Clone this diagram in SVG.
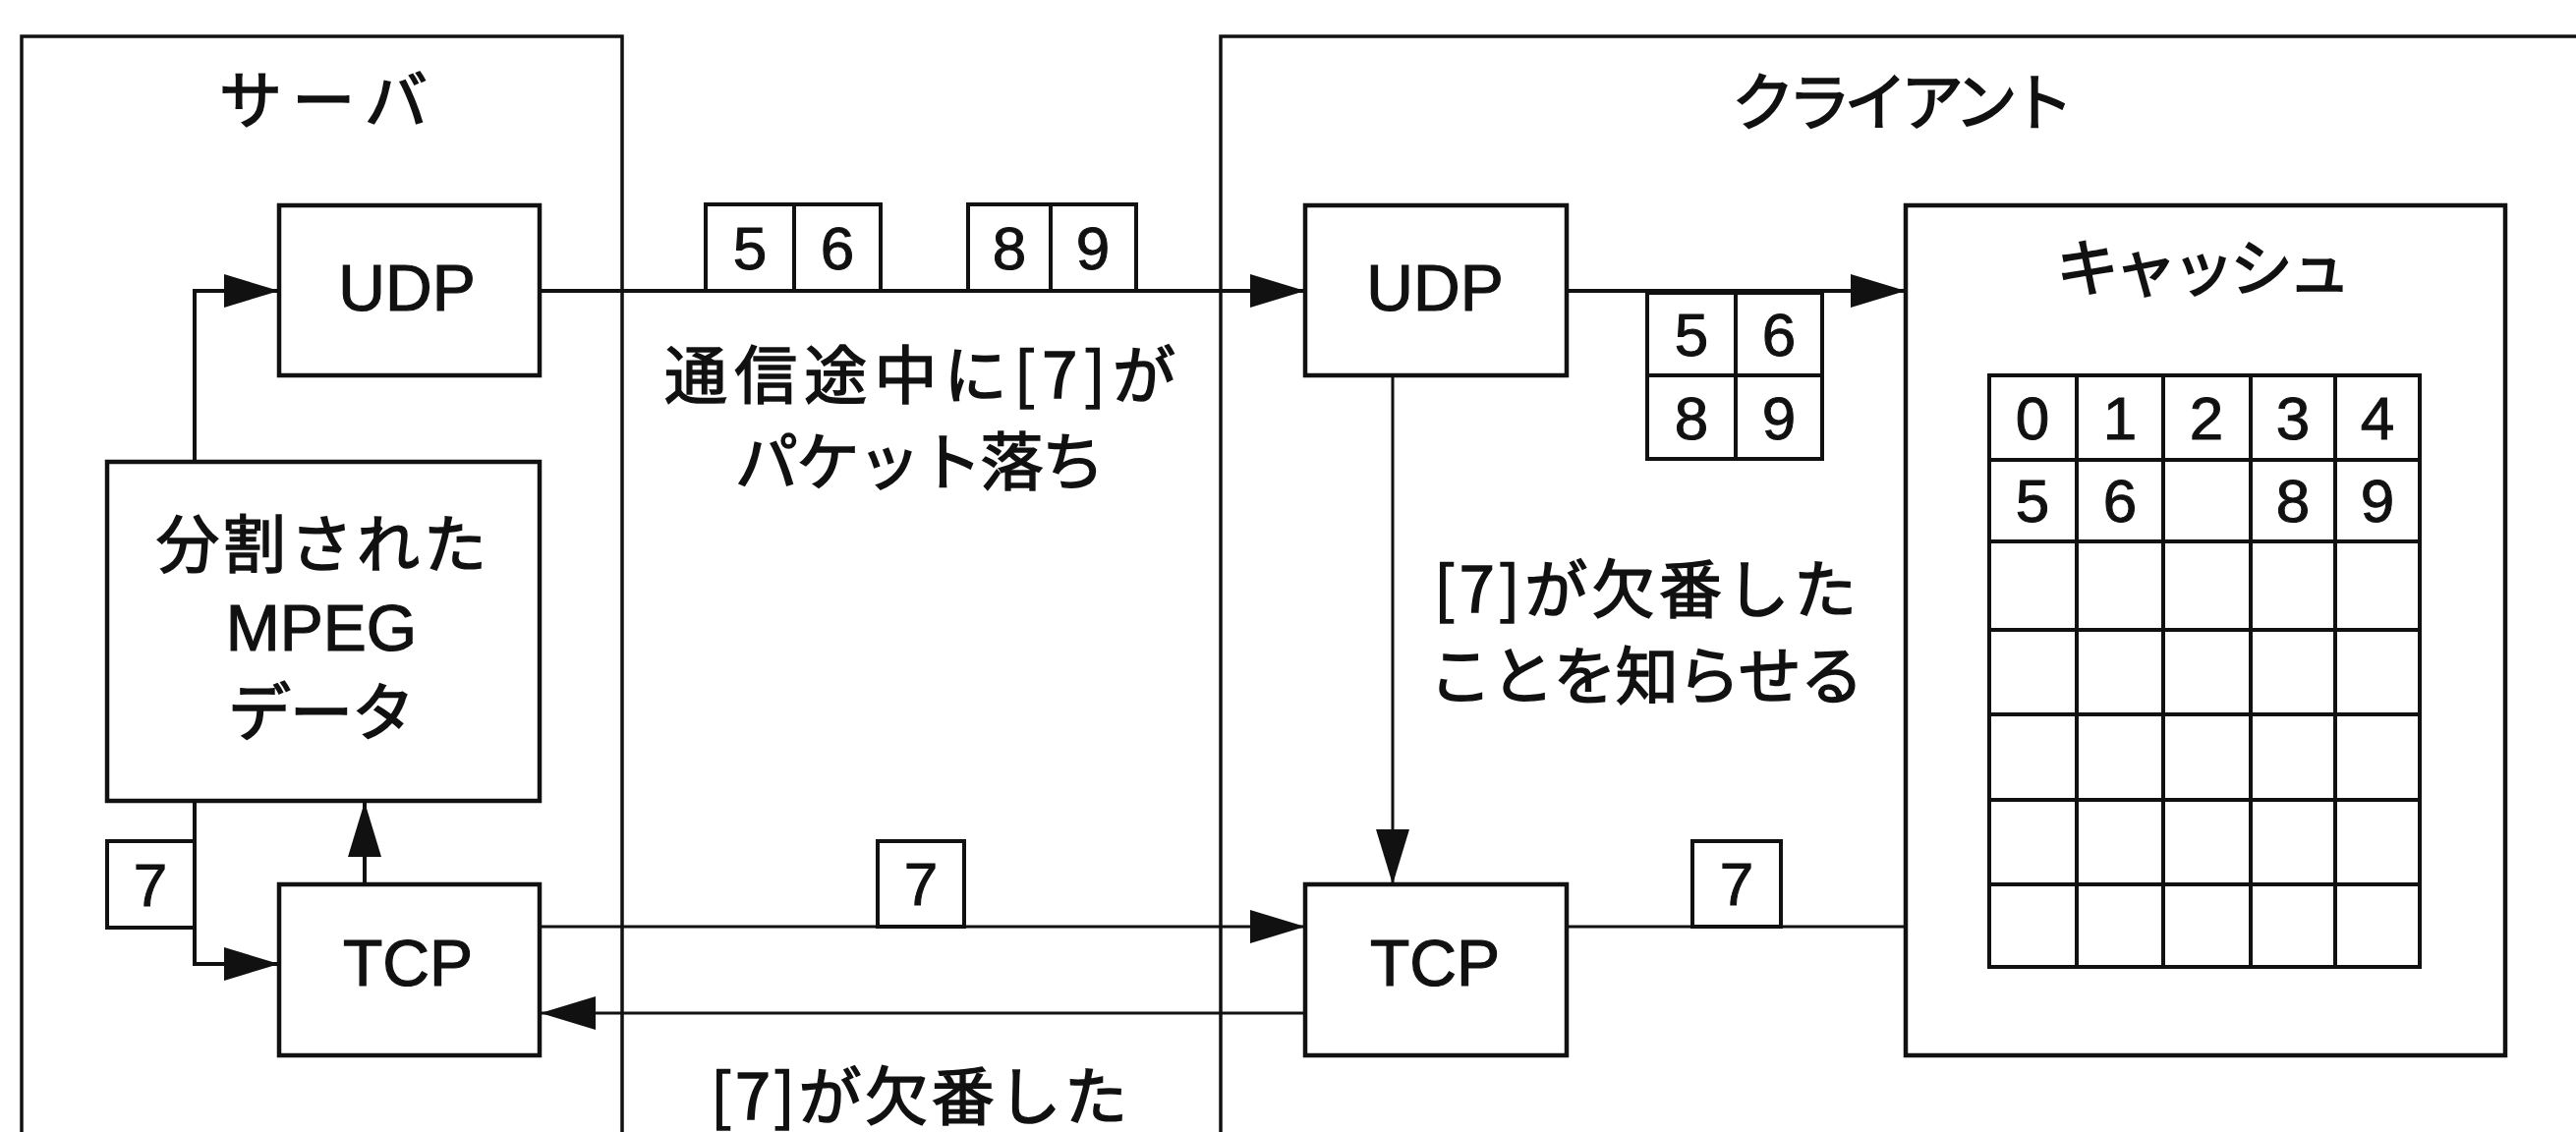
<svg xmlns="http://www.w3.org/2000/svg" width="2621" height="1152" viewBox="0 0 2621 1152">
<style>
.frame{fill:none;stroke:#111;stroke-width:3.5}
.box{fill:#fff;stroke:#111;stroke-width:4.5}
.pkt{fill:#fff;stroke:#111;stroke-width:4}
.grid{fill:none;stroke:#111;stroke-width:4}
.ln{fill:none;stroke:#111;stroke-width:4}
.ln2{fill:none;stroke:#111;stroke-width:3}
.jp{font-family:"Noto Sans CJK JP","Noto Sans CJK SC",sans-serif;font-size:64px;fill:#111;stroke:#111;stroke-width:1.6px;text-anchor:middle}
.en{font-family:"Liberation Sans",Arial,sans-serif;font-size:66px;fill:#111;stroke:#111;stroke-width:1.2px;text-anchor:middle}
.num{font-family:"Liberation Sans",Arial,sans-serif;font-size:62px;fill:#111;stroke:#111;stroke-width:1px;text-anchor:middle}
</style>
<defs>
<marker id="ah" markerUnits="userSpaceOnUse" viewBox="0 0 56 34" markerWidth="56" markerHeight="34" refX="56" refY="17" orient="auto">
<path d="M0,0 L56,17 L0,34 Z" fill="#111"/>
</marker>
</defs>
<rect width="2621" height="1152" fill="#fff"/>

<g id="server-frame">
<path class="frame" d="M22,1152 V37 H633 V1152"/>
<text class="jp" x="329" y="125" font-size="66" textLength="212">サーバ</text>
</g>
<g id="client-frame">
<path class="frame" d="M2621,37 H1242 V1152"/>
<text class="jp" x="1936" y="127" textLength="348">クライアント</text>
</g>

<g id="connectors">
<path class="ln" d="M198,470 V296 H284" marker-end="url(#ah)"/>
<path class="ln" d="M198,815 V981 H284" marker-end="url(#ah)"/>
<path class="ln" d="M371,900 V816" marker-end="url(#ah)"/>
<path class="ln" d="M549,296 H1328" marker-end="url(#ah)"/>
<path class="ln2" d="M549,943 H1328" marker-end="url(#ah)"/>
<path class="ln2" d="M1328,1031 H550" marker-end="url(#ah)"/>
<path class="ln" d="M1594,296 H1939" marker-end="url(#ah)"/>
<path class="ln2" d="M1417,382 V900" marker-end="url(#ah)"/>
<path class="ln2" d="M1594,943 H2244 V553" marker-end="url(#ah)"/>
</g>

<g id="server-udp">
<rect class="box" x="284" y="209" width="265" height="173"/>
<text class="en" x="414" y="316">UDP</text>
</g>
<g id="mpeg-data">
<rect class="box" x="109" y="470" width="440" height="345"/>
<text class="jp" x="327" y="577" font-size="66" textLength="336">分割された</text>
<text class="en" x="327" y="662" font-size="64">MPEG</text>
<text class="jp" x="327" y="748" font-size="66" textLength="190">データ</text>
</g>
<g id="server-tcp">
<rect class="box" x="284" y="900" width="265" height="174"/>
<text class="en" x="415" y="1003">TCP</text>
</g>
<g id="client-udp">
<rect class="box" x="1328" y="209" width="266" height="173"/>
<text class="en" x="1460" y="316">UDP</text>
</g>
<g id="client-tcp">
<rect class="box" x="1328" y="900" width="266" height="174"/>
<text class="en" x="1460" y="1003">TCP</text>
</g>

<g id="packets-udp">
<rect class="pkt" x="718" y="208" width="90" height="88"/>
<rect class="pkt" x="808" y="208" width="88" height="88"/>
<rect class="pkt" x="985" y="208" width="84" height="88"/>
<rect class="pkt" x="1069" y="208" width="87" height="88"/>
<text class="num" x="763" y="274">5</text>
<text class="num" x="852" y="274">6</text>
<text class="num" x="1027" y="274">8</text>
<text class="num" x="1112" y="274">9</text>
</g>
<g id="packets-received">
<rect class="pkt" x="1676" y="298" width="178" height="169"/>
<path class="grid" d="M1766,298 V467 M1676,382 H1854"/>
<text class="num" x="1721" y="362">5</text>
<text class="num" x="1810" y="362">6</text>
<text class="num" x="1721" y="447">8</text>
<text class="num" x="1810" y="447">9</text>
</g>
<g id="packet7-left">
<rect class="pkt" x="109" y="856" width="89" height="88"/>
<text class="num" x="153" y="922">7</text>
</g>
<g id="packet7-mid">
<rect class="pkt" x="893" y="856" width="88" height="87"/>
<text class="num" x="937" y="921">7</text>
</g>
<g id="packet7-right">
<rect class="pkt" x="1722" y="856" width="90" height="87"/>
<text class="num" x="1767" y="921">7</text>
</g>

<g id="label-loss">
<text class="jp" x="936" y="405" font-size="60" textLength="520">通信途中に[7]が</text>
<text class="jp" x="936" y="493" font-size="60" textLength="376">パケット落ち</text>
</g>
<g id="label-missing-bottom">
<text class="jp" x="935" y="1139" textLength="424">[7]が欠番した</text>
</g>
<g id="label-notify">
<text class="jp" x="1674" y="623" font-size="60" textLength="430">[7]が欠番した</text>
<text class="jp" x="1675" y="711" font-size="60" textLength="442">ことを知らせる</text>
</g>

<g id="cache">
<rect class="box" x="1939" y="209" width="610" height="865"/>
<text class="jp" x="2242" y="296" font-size="62" textLength="300">キャッシュ</text>
<rect class="grid" x="2024" y="382" width="438" height="602"/>
<path class="grid" d="M2113,382 V984 M2201,382 V984 M2290,382 V984 M2376,382 V984 M2024,468 H2462 M2024,551 H2462 M2024,641 H2462 M2024,727 H2462 M2024,814 H2462 M2024,900 H2462"/>
<text class="num" x="2068" y="447">0</text>
<text class="num" x="2157" y="447">1</text>
<text class="num" x="2245" y="447">2</text>
<text class="num" x="2333" y="447">3</text>
<text class="num" x="2419" y="447">4</text>
<text class="num" x="2068" y="531">5</text>
<text class="num" x="2157" y="531">6</text>
<text class="num" x="2333" y="531">8</text>
<text class="num" x="2419" y="531">9</text>
</g>
</svg>
